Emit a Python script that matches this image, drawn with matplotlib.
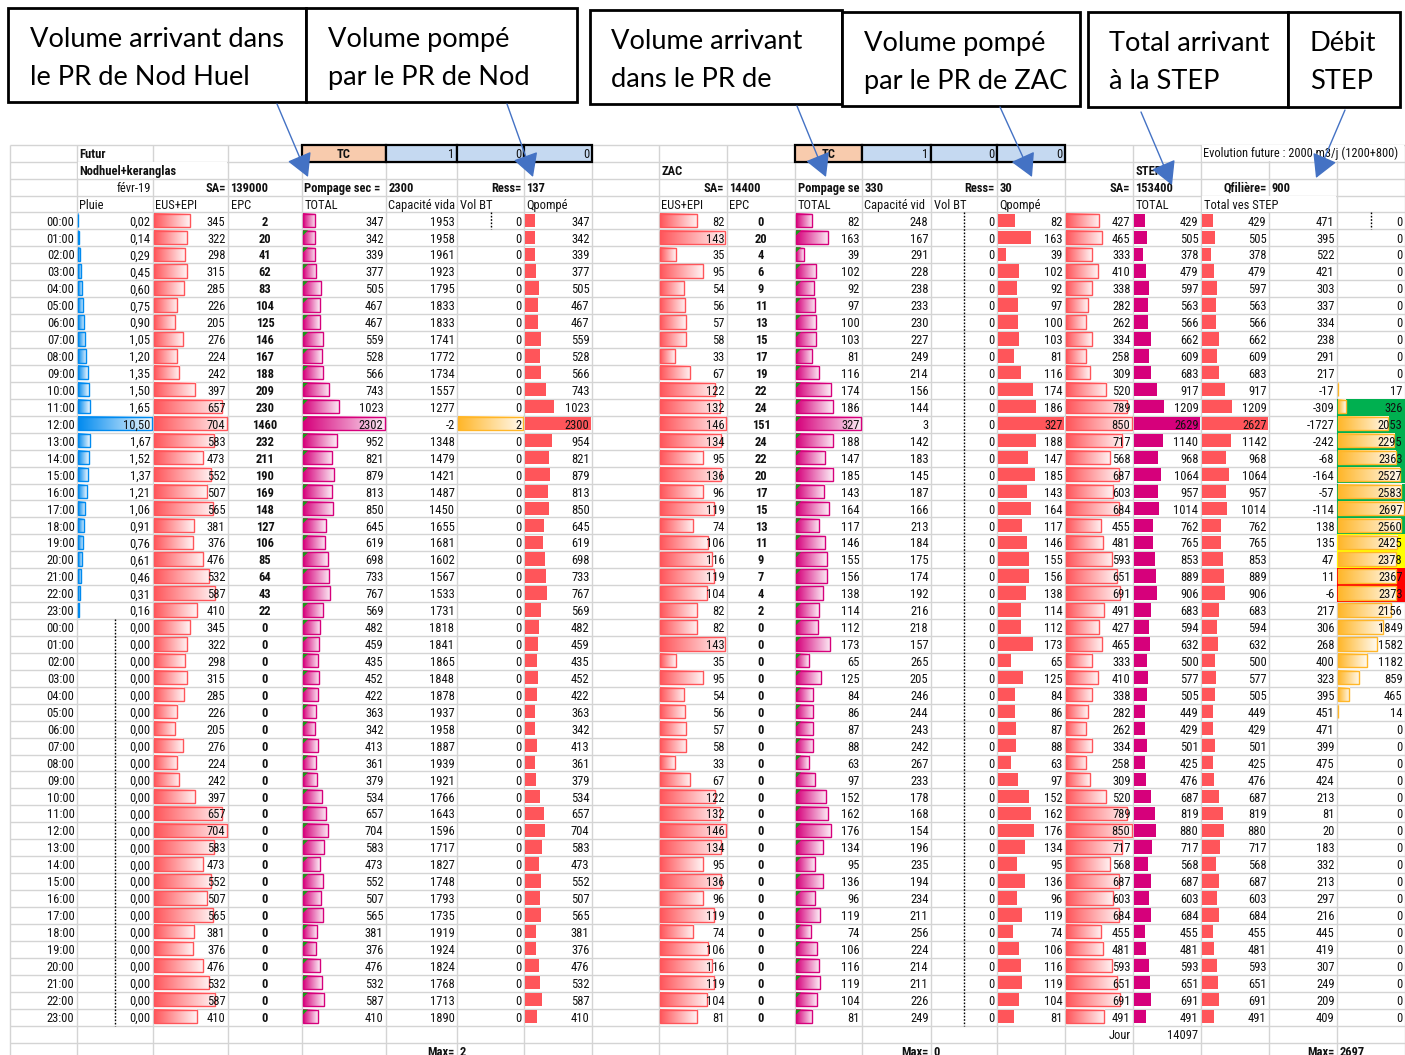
import numpy as np
import matplotlib
matplotlib.use("Agg")
import matplotlib.pyplot as plt
import matplotlib.colors as mcolors
from matplotlib.patches import Rectangle, Polygon
from matplotlib import font_manager as fm

# ====================== DATA ======================
hours = ["00:00", "01:00", "02:00", "03:00", "04:00", "05:00", "06:00", "07:00",
         "08:00", "09:00", "10:00", "11:00", "12:00", "13:00", "14:00", "15:00",
         "16:00", "17:00", "18:00", "19:00", "20:00", "21:00", "22:00", "23:00"]
time_labels = hours + hours

pluie = [0.02, 0.14, 0.29, 0.45, 0.60, 0.75, 0.90, 1.05, 1.20, 1.35, 1.50, 1.65,
         10.50, 1.67, 1.52, 1.37, 1.21, 1.06, 0.91, 0.76, 0.61, 0.46, 0.31, 0.16,
         0.00, 0.00, 0.00, 0.00, 0.00, 0.00, 0.00, 0.00, 0.00, 0.00, 0.00, 0.00,
         0.00, 0.00, 0.00, 0.00, 0.00, 0.00, 0.00, 0.00, 0.00, 0.00, 0.00, 0.00]

nod_eus = [345, 322, 298, 315, 285, 226, 205, 276, 224, 242, 397, 657,
           704, 583, 473, 552, 507, 565, 381, 376, 476, 532, 587, 410,
           345, 322, 298, 315, 285, 226, 205, 276, 224, 242, 397, 657,
           704, 583, 473, 552, 507, 565, 381, 376, 476, 532, 587, 410]
nod_epc = [2, 20, 41, 62, 83, 104, 125, 146, 167, 188, 209, 230,
           1460, 232, 211, 190, 169, 148, 127, 106, 85, 64, 43, 22,
           0, 0, 0, 0, 0, 0, 0, 0, 0, 0, 0, 0,
           0, 0, 0, 0, 0, 0, 0, 0, 0, 0, 0, 0]
nod_total = [347, 342, 339, 377, 505, 467, 467, 559, 528, 566, 743, 1023,
             2302, 952, 821, 879, 813, 850, 645, 619, 698, 733, 767, 569,
             482, 459, 435, 452, 422, 363, 342, 413, 361, 379, 534, 657,
             704, 583, 473, 552, 507, 565, 381, 376, 476, 532, 587, 410]
nod_cap = [1953, 1958, 1961, 1923, 1795, 1833, 1833, 1741, 1772, 1734, 1557, 1277,
           -2, 1348, 1479, 1421, 1487, 1450, 1655, 1681, 1602, 1567, 1533, 1731,
           1818, 1841, 1865, 1848, 1878, 1937, 1958, 1887, 1939, 1921, 1766, 1643,
           1596, 1717, 1827, 1748, 1793, 1735, 1919, 1924, 1824, 1768, 1713, 1890]
nod_volbt = [0, 0, 0, 0, 0, 0, 0, 0, 0, 0, 0, 0,
             2, 0, 0, 0, 0, 0, 0, 0, 0, 0, 0, 0,
             0, 0, 0, 0, 0, 0, 0, 0, 0, 0, 0, 0,
             0, 0, 0, 0, 0, 0, 0, 0, 0, 0, 0, 0]
nod_qp = [347, 342, 339, 377, 505, 467, 467, 559, 528, 566, 743, 1023,
          2300, 954, 821, 879, 813, 850, 645, 619, 698, 733, 767, 569,
          482, 459, 435, 452, 422, 363, 342, 413, 361, 379, 534, 657,
          704, 583, 473, 552, 507, 565, 381, 376, 476, 532, 587, 410]

zac_eus = [82, 143, 35, 95, 54, 56, 57, 58, 33, 67, 122, 132,
           146, 134, 95, 136, 96, 119, 74, 106, 116, 119, 104, 82,
           82, 143, 35, 95, 54, 56, 57, 58, 33, 67, 122, 132,
           146, 134, 95, 136, 96, 119, 74, 106, 116, 119, 104, 81]
zac_epc = [0, 20, 4, 6, 9, 11, 13, 15, 17, 19, 22, 24,
           151, 24, 22, 20, 17, 15, 13, 11, 9, 7, 4, 2,
           0, 0, 0, 0, 0, 0, 0, 0, 0, 0, 0, 0,
           0, 0, 0, 0, 0, 0, 0, 0, 0, 0, 0, 0]
zac_total = [82, 163, 39, 102, 92, 97, 100, 103, 81, 116, 174, 186,
             327, 188, 147, 185, 143, 164, 117, 146, 155, 156, 138, 114,
             112, 173, 65, 125, 84, 86, 87, 88, 63, 97, 152, 162,
             176, 134, 95, 136, 96, 119, 74, 106, 116, 119, 104, 81]
zac_cap = [248, 167, 291, 228, 238, 233, 230, 227, 249, 214, 156, 144,
           3, 142, 183, 145, 187, 166, 213, 184, 175, 174, 192, 216,
           218, 157, 265, 205, 246, 244, 243, 242, 267, 233, 178, 168,
           154, 196, 235, 194, 234, 211, 256, 224, 214, 211, 226, 249]
zac_volbt = [0, 0, 0, 0, 0, 0, 0, 0, 0, 0, 0, 0,
             0, 0, 0, 0, 0, 0, 0, 0, 0, 0, 0, 0,
             0, 0, 0, 0, 0, 0, 0, 0, 0, 0, 0, 0,
             0, 0, 0, 0, 0, 0, 0, 0, 0, 0, 0, 0]
zac_qp = [82, 163, 39, 102, 92, 97, 100, 103, 81, 116, 174, 186,
          327, 188, 147, 185, 143, 164, 117, 146, 155, 156, 138, 114,
          112, 173, 65, 125, 84, 86, 87, 88, 63, 97, 152, 162,
          176, 134, 95, 136, 96, 119, 74, 106, 116, 119, 104, 81]

step_eus = [427, 465, 333, 410, 338, 282, 262, 334, 258, 309, 520, 789,
            850, 717, 568, 687, 603, 684, 455, 481, 593, 651, 691, 491,
            427, 465, 333, 410, 338, 282, 262, 334, 258, 309, 520, 789,
            850, 717, 568, 687, 603, 684, 455, 481, 593, 651, 691, 491]
step_total = [429, 505, 378, 479, 597, 563, 566, 662, 609, 683, 917, 1209,
              2629, 1140, 968, 1064, 957, 1014, 762, 765, 853, 889, 906, 683,
              594, 632, 500, 577, 505, 449, 429, 501, 425, 476, 687, 819,
              880, 717, 568, 687, 603, 684, 455, 481, 593, 651, 691, 491]
step_ves = [429, 505, 378, 479, 597, 563, 566, 662, 609, 683, 917, 1209,
            2627, 1142, 968, 1064, 957, 1014, 762, 765, 853, 889, 906, 683,
            594, 632, 500, 577, 505, 449, 429, 501, 425, 476, 687, 819,
            880, 717, 568, 687, 603, 684, 455, 481, 593, 651, 691, 491]
step_marge = [471, 395, 522, 421, 303, 337, 334, 238, 291, 217, -17, -309,
              -1727, -242, -68, -164, -57, -114, 138, 135, 47, 11, -6, 217,
              306, 268, 400, 323, 395, 451, 471, 399, 475, 424, 213, 81,
              20, 183, 332, 213, 297, 216, 445, 419, 307, 249, 209, 409]
step_stock = [0, 0, 0, 0, 0, 0, 0, 0, 0, 0, 17, 326,
              2053, 2295, 2363, 2527, 2583, 2697, 2560, 2425, 2378, 2367, 2373, 2156,
              1849, 1582, 1182, 859, 465, 14, 0, 0, 0, 0, 0, 0,
              0, 0, 0, 0, 0, 0, 0, 0, 0, 0, 0, 0]

tc_nod = [1, 0, 0]
tc_zac = [1, 0, 0]
sa_nod, pompage_nod, ress_nod = 139000, 2300, 137
sa_zac, pompage_zac, ress_zac = 14400, 330, 30
sa_step, qfiliere = 153400, 900
jour_total = 14097

box_texts = [("Volume arrivant dans", "le PR de Nod Huel"),
             ("Volume pompé", "par le PR de Nod"),
             ("Volume arrivant", "dans le PR de"),
             ("Volume pompé", "par le PR de ZAC"),
             ("Total arrivant", "à la STEP"),
             ("Débit", "STEP")]

# ====================== LAYOUT / STYLE ======================
W, H = 1405, 1055
COLS = [10, 77, 153, 228, 302, 386, 457, 524, 592, 659, 727, 795, 862,
        931, 997, 1065, 1133, 1201, 1269, 1337, 1405]
ROW0 = 144.7
RH = 16.94
NROWS = 54
DATA0 = 4

available = {f.name for f in fm.fontManager.ttflist}


def pick(cands, default):
    for c in cands:
        if c in available:
            return c
    return default


CELL_FONT = pick(['Liberation Sans Narrow', 'Roboto Condensed', 'Open Sans Condensed'], 'DejaVu Sans')
CELL_STRETCH = 'condensed' if CELL_FONT == 'DejaVu Sans' else 'normal'
BOX_FONT = pick(['Lato', 'Open Sans', 'Liberation Sans'], 'DejaVu Sans')
FS = 9.0

BLUE = '#008AEF'
RED = '#FF555A'
MAG = '#D6007B'
ORANGE = '#FFB628'
GRID = '#D4D4D4'
ARROW = '#4472C4'

fig = plt.figure(figsize=(W / 100, H / 100), dpi=100)
ax = fig.add_axes([0, 0, 1, 1])
ax.set_xlim(0, W)
ax.set_ylim(H, 0)
ax.set_autoscale_on(False)
ax.axis('off')


def top(r):
    return ROW0 + r * RH


def bot(r):
    return ROW0 + (r + 1) * RH


# gridlines
ax.vlines(COLS, ROW0, H, colors=GRID, lw=1, zorder=0)
ys = [top(r) for r in range(NROWS + 1) if top(r) <= H]
ax.hlines(ys, COLS[0], W, colors=GRID, lw=1, zorder=0)


def mask_overflow(row, c0, c1):
    ax.add_patch(Rectangle((COLS[c0] + 1, top(row) + 0.7), COLS[c1 + 1] - COLS[c0] - 2,
                           RH - 1.4, facecolor='white', edgecolor='none', zorder=0.5))


def put(col, row, s, ha='right', bold=False, size=FS, clip=False):
    x0, x1 = COLS[col], COLS[col + 1]
    if ha == 'right':
        x = x1 - 2.5
    elif ha == 'left':
        x = x0 + 2.5
    else:
        x = (x0 + x1) / 2
    y = bot(row) - 3.8
    t = ax.text(x, y, s, ha=ha, va='baseline', fontsize=size,
                fontweight='bold' if bold else 'normal', family=CELL_FONT,
                fontstretch=CELL_STRETCH, color='#111111', zorder=6)
    if clip:
        rect = Rectangle((x0, top(row)), x1 - x0 - 1, RH, transform=ax.transData)
        t.set_clip_path(rect)
        t.set_clip_on(True)
    return t


def grad_img(color):
    c = np.array(mcolors.to_rgb(color))
    end = c + (1 - c) * 0.93
    t = np.linspace(0, 1, 128)[None, :, None]
    return c * (1 - t) + end * t


GRADS = {c: grad_img(c) for c in (BLUE, RED, MAG, ORANGE)}


def databar(col, values, color, gradient=True):
    vmax = max(values)
    x0 = COLS[col] + 1
    wmax = COLS[col + 1] - COLS[col] - 2
    for i, v in enumerate(values):
        if v <= 0:
            continue
        w = wmax * v / vmax
        r = DATA0 + i
        y0 = top(r) + 1.2
        y1 = bot(r) - 2.4
        if gradient:
            ax.imshow(GRADS[color], extent=[x0, x0 + w, y1, y0], aspect='auto',
                      interpolation='bilinear', zorder=2)
            ax.add_patch(Rectangle((x0, y0), w, y1 - y0, fill=False, edgecolor=color,
                                   lw=1, zorder=3))
        else:
            ax.add_patch(Rectangle((x0, y0), w, y1 - y0, facecolor=color,
                                   edgecolor='none', zorder=2))


def dashed_axis(col, r0, r1):
    xm = (COLS[col] + COLS[col + 1]) / 2
    ax.vlines([xm], top(DATA0 + r0), bot(DATA0 + r1), colors='black', lw=1,
              linestyles=(0, (1.2, 1.2)), zorder=4)


# ---------- stock column fills (conditional formatting) ----------
stock_fill_rows = {11: '#00B050', 12: '#00B050', 13: '#00B050', 14: '#00B050',
                   15: '#00B050', 16: '#00B050', 17: '#00B050', 18: '#00B050',
                   19: '#FFFF00', 20: '#FFFF00', 21: '#FF0000', 22: '#FF0000'}
for i, fc in stock_fill_rows.items():
    r = DATA0 + i
    ax.add_patch(Rectangle((COLS[19], top(r)), COLS[20] - COLS[19], RH,
                           facecolor=fc, edgecolor='none', zorder=1))

# ---------- header row 0 : TC blocks ----------
for c0, vals in ((4, tc_nod), (11, tc_zac)):
    cells = [('TC', '#F8CBAD', 'center', True)] + [(str(v), '#C5D9F1', 'right', False) for v in vals]
    for k, (txt, fc, ha, b) in enumerate(cells):
        c = c0 + k
        ax.add_patch(Rectangle((COLS[c], top(0)), COLS[c + 1] - COLS[c], RH,
                               facecolor=fc, edgecolor='black', lw=1.6, zorder=4))
        put(c, 0, txt, ha=ha, bold=b)
put(1, 0, 'Futur', ha='left', bold=True)
mask_overflow(0, 17, 19)
ax.text(COLS[17] + 2, bot(0) - 4.2, 'Evolution future : 2000 m3/j (1200+800)', ha='left',
        va='baseline', fontsize=8.9, family=CELL_FONT, fontstretch=CELL_STRETCH,
        color='#111111', zorder=6)

# row 1
mask_overflow(1, 1, 2)
put(1, 1, 'Nodhuel+keranglas', ha='left', bold=True)
put(9, 1, 'ZAC', ha='left', bold=True)
put(16, 1, 'STEP', ha='left', bold=True)

# row 2
put(1, 2, 'févr-19', ha='right')
put(2, 2, 'SA=', ha='right', bold=True)
put(3, 2, str(sa_nod), ha='left', bold=True)
put(4, 2, 'Pompage sec =', ha='left', bold=True, clip=True)
put(5, 2, str(pompage_nod), ha='left', bold=True)
put(6, 2, 'Ress=', ha='right', bold=True)
put(7, 2, str(ress_nod), ha='left', bold=True)
put(9, 2, 'SA=', ha='right', bold=True)
put(10, 2, str(sa_zac), ha='left', bold=True)
put(11, 2, 'Pompage se', ha='left', bold=True, clip=True)
put(12, 2, str(pompage_zac), ha='left', bold=True)
put(13, 2, 'Ress=', ha='right', bold=True)
put(14, 2, str(ress_zac), ha='left', bold=True)
put(15, 2, 'SA=', ha='right', bold=True)
put(16, 2, str(sa_step), ha='left', bold=True)
put(17, 2, 'Qfilière=', ha='right', bold=True)
put(18, 2, str(qfiliere), ha='left', bold=True)

# row 3 : column titles (long titles are cut by the neighbouring cell)
titles = {1: 'Pluie', 2: 'EUS+EPI', 3: 'EPC', 4: 'TOTAL', 5: 'Capacité vida', 6: 'Vol BT',
          7: 'Qpompé', 9: 'EUS+EPI', 10: 'EPC', 11: 'TOTAL', 12: 'Capacité vid',
          13: 'Vol BT', 14: 'Qpompé', 16: 'TOTAL'}
for c, s in titles.items():
    put(c, 3, s, ha='left', clip=(c in (5, 12)))
mask_overflow(3, 17, 18)
put(17, 3, 'Total ves STEP', ha='left')

# ---------- data bars ----------
databar(1, pluie, BLUE)
databar(2, nod_eus, RED)
databar(4, nod_total, MAG)
databar(6, nod_volbt, ORANGE)
databar(7, nod_qp, RED, gradient=False)
databar(9, zac_eus, RED)
databar(11, zac_total, MAG)
databar(14, zac_qp, RED, gradient=False)
databar(15, step_eus, RED)
databar(16, step_total, MAG, gradient=False)
databar(17, step_ves, RED, gradient=False)
databar(19, step_stock, ORANGE)

# data bar axes for all-zero ranges
dashed_axis(1, 24, 47)
dashed_axis(6, 0, 0)
dashed_axis(13, 0, 47)
dashed_axis(19, 0, 0)

# green error-indicator triangles
for c in (4, 11):
    for i in range(1, 48):
        r = DATA0 + i
        x0, y0 = COLS[c] + 1, top(r) + 1
        ax.add_patch(Polygon([(x0, y0), (x0 + 5, y0), (x0, y0 + 5)], closed=True,
                             facecolor='#159E15', edgecolor='none', zorder=4))

# ---------- data text ----------
for i in range(48):
    r = DATA0 + i
    put(0, r, time_labels[i])
    put(1, r, f"{pluie[i]:.2f}".replace('.', ','))
    put(2, r, str(nod_eus[i]))
    put(3, r, str(nod_epc[i]), ha='center', bold=True)
    put(4, r, str(nod_total[i]))
    put(5, r, str(nod_cap[i]))
    put(6, r, str(nod_volbt[i]))
    put(7, r, str(nod_qp[i]))
    put(9, r, str(zac_eus[i]))
    put(10, r, str(zac_epc[i]), ha='center', bold=True)
    put(11, r, str(zac_total[i]))
    put(12, r, str(zac_cap[i]))
    put(13, r, str(zac_volbt[i]))
    put(14, r, str(zac_qp[i]))
    put(15, r, str(step_eus[i]))
    put(16, r, str(step_total[i]))
    put(17, r, str(step_ves[i]))
    put(18, r, str(step_marge[i]))
    put(19, r, str(step_stock[i]))

# bottom rows
put(15, 52, 'Jour', ha='right')
put(16, 52, str(jour_total), ha='right')
put(5, 53, 'Max=', ha='right', bold=True)
put(6, 53, str(max(nod_volbt)), ha='left', bold=True)
put(12, 53, 'Max=', ha='right', bold=True)
put(13, 53, str(max(zac_volbt)), ha='left', bold=True)
put(18, 53, 'Max=', ha='right', bold=True)
put(19, 53, str(max(step_stock)), ha='left', bold=True)

# ---------- callout boxes ----------
boxes = [(8, 8, 306, 102, 30), (306, 8, 577, 102, 328), (590, 10, 842, 104, 611),
         (842, 12, 1080, 106, 864), (1088, 12, 1288, 107, 1109), (1288, 12, 1400, 107, 1310)]
for (x0, y0, x1, y1, tx), (l1, l2) in zip(boxes, box_texts):
    ax.add_patch(Rectangle((x0, y0), x1 - x0, y1 - y0, facecolor='white', edgecolor='black',
                           lw=2, zorder=7))
    ax.text(tx, y0 + 39, l1, ha='left', va='baseline', fontsize=19.6, family=BOX_FONT,
            color='black', zorder=8)
    ax.text(tx, y0 + 77, l2, ha='left', va='baseline', fontsize=19.6, family=BOX_FONT,
            color='black', zorder=8)

arrows = [((277, 104), (308, 177)), ((507, 104), (533, 177)), ((797, 106), (826, 177)),
          ((1000, 107), (1032, 177)), ((1141, 112), (1172, 185)), ((1345, 110), (1316, 178))]
for start, tip in arrows:
    ax.annotate('', xy=tip, xytext=start,
                arrowprops=dict(arrowstyle='-|>,head_length=0.9,head_width=0.5',
                                color=ARROW, lw=1, shrinkA=0, shrinkB=0,
                                mutation_scale=16), zorder=8)

fig.savefig('out.png', dpi=100, facecolor='white')
